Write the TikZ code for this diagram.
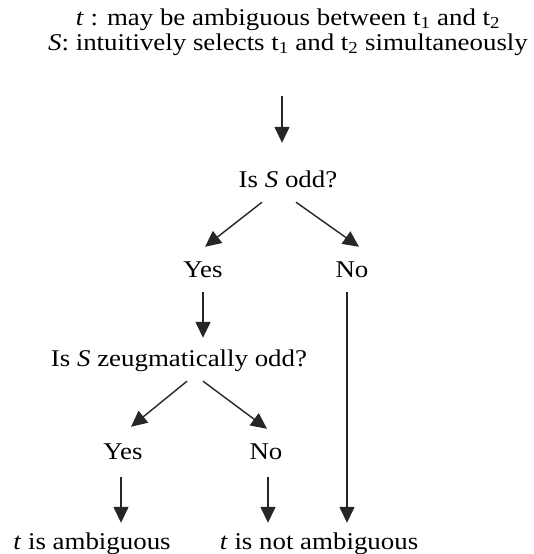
\documentclass[tikz,border=0pt]{standalone}
\usepackage{fontspec}
\setmainfont[FakeStretch=1.12]{Liberation Serif}
\usetikzlibrary{arrows.meta,calc}
\begin{document}
\begin{tikzpicture}[x=1pt,y=-1pt,
  lbl/.style={inner sep=0pt, anchor=base, font=\fontsize{24}{25}\selectfont, text height=15pt, text depth=5pt},
  arr/.style={line width=1.4pt, draw=black!85, -{Triangle[length=16pt,width=15pt]}}]
\useasboundingbox (0,0) rectangle (534,554);
\node[inner sep=0pt, align=center, font=\fontsize{24}{25}\selectfont] (top) at (288,32)
  {\textit{t} : may be ambiguous between t\textsubscript{1} and t\textsubscript{2}\\
   \textit{S}: intuitively selects t\textsubscript{1} and t\textsubscript{2} simultaneously};
\node[lbl] (q1) at (288,187) {Is \textit{S} odd?};
\node[lbl] (yes) at (203,277) {Yes};
\node[lbl] (no) at (352,277) {No};
\node[lbl] (q2) at (179,366) {Is \textit{S} zeugmatically odd?};
\node[lbl] (yes2) at (123,459) {Yes};
\node[lbl] (no2) at (266,459) {No};
\node[lbl] (bl) at (92,549) {\textit{t} is ambiguous};
\node[lbl] (br) at (319,549) {\textit{t} is not ambiguous};
\draw[arr] ($(top.south)+(-6,40)$) -- ($(top.south |- q1.north)+(-6,-29)$);
\draw[arr] ($(q1.south)+(-26,10)$) -- ($(yes.north)+(2,-15)$);
\draw[arr] ($(q1.south)+(8,10)$) -- ($(no.north)+(7,-15)$);
\draw[arr] ($(yes.south)+(0,10)$) -- ($(yes.south |- q2.north)+(0,-13)$);
\draw[arr] ($(no.south)+(-5,10)$) -- ($(no.south |- br.north)+(-5,-11)$);
\draw[arr] ($(q2.south)+(8,10)$) -- ($(yes2.north)+(8,-17)$);
\draw[arr] ($(q2.south)+(24,10)$) -- ($(no2.north)+(1,-15)$);
\draw[arr] ($(yes2.south)+(-2,13)$) -- ($(yes2.south |- bl.north)+(-2,-11)$);
\draw[arr] ($(no2.south)+(2,13)$) -- ($(no2.south |- br.north)+(2,-11)$);
\end{tikzpicture}
\end{document}
